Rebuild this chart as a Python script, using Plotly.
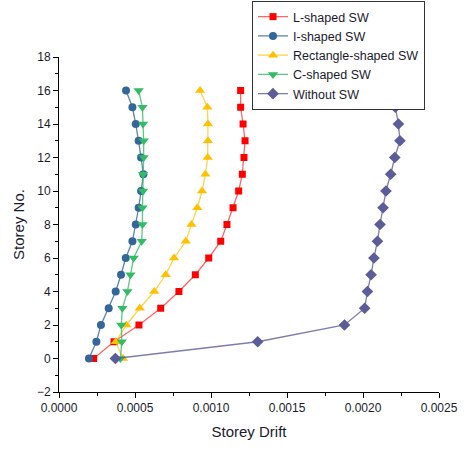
import plotly.graph_objects as go

storey = list(range(17))

l_shaped = [0.000228, 0.000362, 0.000526, 0.000669, 0.000789, 0.000897, 0.000985, 0.001064,
            0.001105, 0.001145, 0.001182, 0.001206, 0.001217, 0.001224, 0.001211, 0.001195, 0.001195]
i_shaped = [0.000197, 0.000246, 0.000276, 0.000327, 0.000373, 0.000408, 0.000439, 0.000483,
            0.000505, 0.000524, 0.000540, 0.000555, 0.000540, 0.000524, 0.000505, 0.000483, 0.000441]
rect_shaped = [0.000421, 0.000373, 0.000443, 0.000531, 0.000627, 0.000702, 0.000757, 0.000834,
               0.000871, 0.000910, 0.000941, 0.000963, 0.000978, 0.000980, 0.000980, 0.000976, 0.000928]
c_shaped = [0.000404, 0.000413, 0.000410, 0.000417, 0.000450, 0.000470, 0.000491, 0.000544,
            0.000549, 0.000549, 0.000553, 0.000553, 0.000557, 0.000557, 0.000553, 0.000549, 0.000524]
without_sw = [0.000371, 0.001307, 0.001878, 0.002011, 0.002029, 0.002053, 0.002072, 0.002095,
              0.002112, 0.002132, 0.002151, 0.002182, 0.002209, 0.002243, 0.002233, 0.002213, 0.002195]

series = [
    ("L-shaped SW", l_shaped, "#FF0000", "rgba(255,0,0,0.6)", "square", 7),
    ("I-shaped SW", i_shaped, "#336699", "rgba(51,102,153,0.8)", "circle", 8),
    ("Rectangle-shaped SW", rect_shaped, "#FFC000", "rgba(255,192,0,0.7)", "triangle-up", 9),
    ("C-shaped SW", c_shaped, "#33BB66", "rgba(51,187,102,0.8)", "triangle-down", 9),
    ("Without SW", without_sw, "#5C5C99", "rgba(92,92,153,0.8)", "diamond", 9),
]

fig = go.Figure()
for name, xs, mcol, lcol, sym, size in series:
    fig.add_trace(go.Scatter(
        x=xs, y=storey, name=name, mode="lines+markers",
        line=dict(color=lcol, width=1.3),
        marker=dict(color=mcol, symbol=sym, size=size, line=dict(width=0)),
    ))

font_family = "Liberation Sans, Arial, sans-serif"
fig.update_layout(
    width=465, height=450,
    margin=dict(l=59, r=26, t=57, b=58, autoexpand=False),
    paper_bgcolor="white", plot_bgcolor="white",
    font=dict(family=font_family, size=12, color="#1a1a2e"),
    showlegend=True,
    legend=dict(
        x=252 / 465, y=1 - 1 / 450, xref="container", yref="container",
        xanchor="left", yanchor="top",
        bordercolor="#333333", borderwidth=1, bgcolor="white",
        font=dict(family=font_family, size=12.5, color="#1a1a2e"),
        tracegroupgap=0, itemwidth=30,
    ),
    xaxis=dict(
        range=[0, 0.0025], tickvals=[0, 0.0005, 0.001, 0.0015, 0.002, 0.0025],
        tickformat=".4f", showgrid=False, zeroline=False,
        showline=True, linecolor="black", linewidth=1,
        ticks="outside", ticklen=5, tickcolor="black",
        minor=dict(dtick=0.00025, ticks="outside", ticklen=3, tickcolor="black", showgrid=False),
        title=dict(text="Storey Drift", font=dict(size=15, family=font_family, color="#1a1a2e"), standoff=12),
    ),
    yaxis=dict(
        range=[-2, 18], dtick=2, showgrid=False, zeroline=False,
        showline=True, linecolor="black", linewidth=1,
        ticks="outside", ticklen=5, tickcolor="black",
        minor=dict(dtick=1, ticks="outside", ticklen=3, tickcolor="black", showgrid=False),
        title=dict(text="Storey No.", font=dict(size=15, family=font_family, color="#1a1a2e"), standoff=8),
    ),
)

fig.write_html("out.html")
